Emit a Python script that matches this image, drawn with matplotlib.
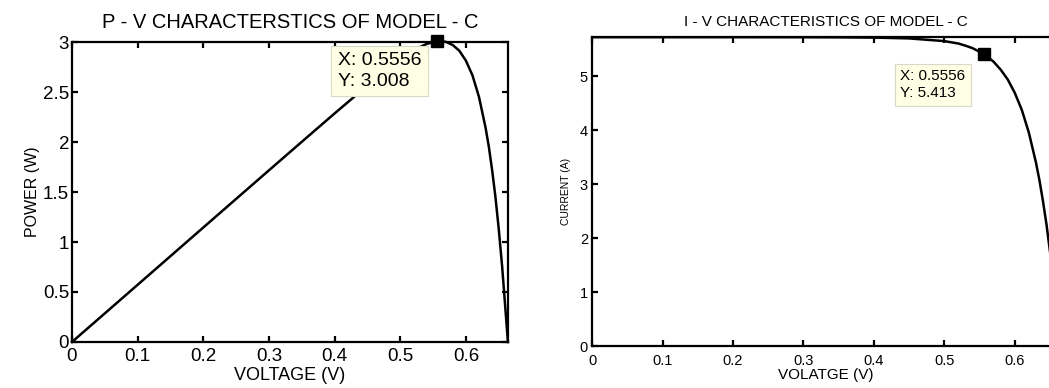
import numpy as np
import matplotlib.pyplot as plt

plt.rcParams['font.family'] = ['Liberation Sans', 'DejaVu Sans']

############################### DATA

voltage = [0.0, 0.1, 0.2, 0.3, 0.35, 0.4, 0.45, 0.5, 0.52, 0.53, 0.54, 0.5556,
           0.56, 0.565, 0.57, 0.58, 0.59, 0.6, 0.61, 0.62, 0.63, 0.635, 0.64,
           0.645, 0.65, 0.655, 0.66, 0.664]
current = [5.723, 5.723, 5.723, 5.722, 5.72, 5.715, 5.70, 5.65, 5.605, 5.565, 5.52, 5.413,
           5.374, 5.32, 5.266, 5.12, 4.938, 4.69, 4.373, 3.95, 3.40, 3.07, 2.68,
           2.25, 1.74, 1.17, 0.52, 0.0]
power = [0.0, 0.572, 1.145, 1.717, 2.002, 2.286, 2.565, 2.825, 2.915, 2.949, 2.981, 3.008,
         3.009, 3.006, 3.001, 2.970, 2.913, 2.814, 2.667, 2.449, 2.142, 1.95, 1.715,
         1.45, 1.131, 0.77, 0.343, 0.0]

mpp_v = 0.5556
mpp_p = 3.008
mpp_i = 5.413

x_ticks = [0, 0.1, 0.2, 0.3, 0.4, 0.5, 0.6]
x_labels = ["0", "0.1", "0.2", "0.3", "0.4", "0.5", "0.6"]
p_ticks = [0, 0.5, 1, 1.5, 2, 2.5, 3]
p_labels = ["0", "0.5", "1", "1.5", "2", "2.5", "3"]
i_ticks = [0, 1, 2, 3, 4, 5]
i_labels = ["0", "1", "2", "3", "4", "5"]

############################### DISPLAY

fig = plt.figure(figsize=(10.49, 3.88), dpi=100)
fig.patch.set_facecolor("white")

ax1 = fig.add_axes([0.0686, 0.1186, 0.4156, 0.773])
ax2 = fig.add_axes([0.5644, 0.1082, 0.446, 0.796])

tip_box = dict(boxstyle="square,pad=0.35", fc="#ffffe6", ec="#d8d8c8", lw=0.8)


def style_axes(ax, fsize, lw, xpad, ypad):
    for s in ax.spines.values():
        s.set_linewidth(lw)
    ax.tick_params(direction="in", top=True, right=True, length=4, width=lw,
                   labelsize=fsize)
    ax.tick_params(axis="x", pad=xpad)
    ax.tick_params(axis="y", pad=ypad)


# P - V
ax1.plot(voltage, power, "-k", linewidth=1.8, clip_on=False)
ax1.plot([mpp_v], [mpp_p], "sk", markersize=8, clip_on=False, zorder=5)
ax1.annotate("X: 0.5556\nY: 3.008", xy=(mpp_v, mpp_p), xytext=(-71, -8),
             textcoords="offset points", ha="left", va="top", fontsize=14,
             linespacing=1.25, bbox=tip_box, zorder=6, annotation_clip=False)
ax1.set_xlim(0, 0.664)
ax1.set_ylim(0, 3)
ax1.set_xticks(x_ticks, x_labels)
ax1.set_yticks(p_ticks, p_labels)
style_axes(ax1, 13.5, 1.6, 4, 2)
ax1.set_title("P - V CHARACTERSTICS OF MODEL - C", fontsize=14.5, pad=10)
ax1.set_xlabel("VOLTAGE (V)", fontsize=13, va="top")
ax1.xaxis.set_label_coords(0.5, -0.082)
ax1.set_ylabel("POWER (W)", fontsize=11.5, labelpad=2)

# I - V
ax2.plot(voltage, current, "-k", linewidth=1.8)
ax2.plot([mpp_v], [mpp_i], "sk", markersize=8, zorder=5)
ax2.annotate("X: 0.5556\nY: 5.413", xy=(mpp_v, mpp_i), xytext=(-60, -11),
             textcoords="offset points", ha="left", va="top", fontsize=11,
             linespacing=1.3, bbox=tip_box, zorder=6, annotation_clip=False)
ax2.set_xlim(0, 0.664)
ax2.set_ylim(0, 5.723)
ax2.set_xticks(x_ticks, x_labels)
ax2.set_yticks(i_ticks, i_labels)
style_axes(ax2, 10.5, 1.6, 6, 3)
ax2.set_title("I - V CHARACTERISTICS OF MODEL - C", fontsize=11, pad=8)
ax2.set_xlabel("VOLATGE (V)", fontsize=11, labelpad=0)
ax2.set_ylabel("CURRENT (A)", fontsize=7.5, labelpad=6)

plt.savefig("out.png", dpi=100)
